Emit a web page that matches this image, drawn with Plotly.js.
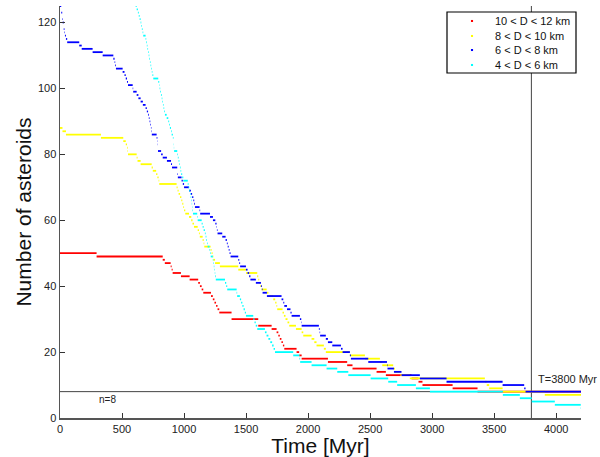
<!DOCTYPE html>
<html>
<head>
<meta charset="utf-8">
<script src="https://cdn.plot.ly/plotly-3.0.1.min.js"></script>
<style>html,body{margin:0;padding:0;background:#fff;}#chart{width:600px;height:457px;}</style>
</head>
<body>
<div id="chart"></div>
<script>
// Step series: level N[i] holds from T[i] to T[i+1] (last T = end time)
const seriesNames = ["10 &lt; D &lt; 12 km", "8 &lt; D &lt; 10 km", "6 &lt; D &lt; 8 km", "4 &lt; D &lt; 6 km"];
const seriesColors = ["#ff0000", "#ffff00", "#0000ff", "#00ffff"];

const redT = [0,295,828,845,892,900,908,975,1045,1114,1128,1142,1155,1217,1232,1245,1258,1270,1284,1383,1598,1706,1746,1760,1772,1785,1797,1808,1907,1928,1948,2160,2315,2358,2552,2627,2834,2890,2922,3165,3366,4200];
const redN = [50,49,48,47,46,45,44,43,42,41,40,39,38,37,36,35,34,33,32,30,28,27,26,25,24,23,22,21,20,19,18,17,16,15,14,13,12,11,10,9,8];

const yellowT = [0,20,48,330,510,530,540,545,548,618,625,650,739,748,775,785,795,800,940,948,956,968,978,986,994,1000,1010,1040,1058,1068,1080,1110,1120,1127,1150,1158,1163,1214,1222,1230,1236,1250,1289,1437,1500,1590,1598,1606,1614,1625,1666,1680,1719,1735,1745,1751,1794,1805,1818,1834,1848,1902,1948,1961,2028,2050,2068,2127,2143,2337,2458,2579,2598,2686,2700,2745,2820,3425,3440,3460,3568,3908,4200];
const yellowN = [88,87,86,85,84,83,82,81,80,79,78,77,76,75,74,73,72,71,70,69,68,67,66,65,64,63,62,61,60,59,58,57,56,55,54,53,52,51,50,49,48,47,46,45,44,43,42,41,40,39,38,37,36,35,34,33,32,31,30,29,28,27,26,25,24,23,22,21,20,19,18,17,16,15,14,13,12,11,10,9,8,7];

const blueT = [0,10,18,22,30,36,40,48,58,155,175,263,344,430,440,445,451,505,520,530,540,548,586,590,618,632,650,668,690,700,710,716,722,728,733,737,740,779,785,787,789,790,815,828,862,895,903,945,946,950,980,990,1000,1040,1055,1065,1075,1082,1088,1125,1130,1209,1233,1252,1262,1265,1270,1308,1335,1345,1352,1360,1367,1375,1437,1445,1452,1499,1512,1525,1535,1579,1620,1627,1633,1668,1786,1800,1808,1830,1858,1867,1934,1945,1948,2087,2093,2097,2143,2160,2195,2265,2278,2337,2345,2485,2636,2640,2692,2753,2901,3116,3568,3742,3753,4200];
const blueN = [125,123,121,120,118,117,116,115,114,113,112,111,110,109,108,107,106,105,104,103,102,101,100,99,98,97,96,95,94,93,92,91,90,89,88,87,86,85,84,83,82,81,80,79,78,77,76,75,74,73,72,71,70,69,68,67,66,65,64,63,62,61,60,59,58,57,56,55,54,53,52,51,50,49,48,47,46,45,44,43,42,41,40,39,38,37,36,35,34,33,32,31,30,29,28,27,26,25,24,23,22,21,20,19,18,17,16,15,14,13,12,11,10,9,8,7];

const cyanT = [590,610,618,628,635,642,650,655,660,666,671,690,695,700,705,710,715,720,725,730,735,740,745,752,792,800,803,808,814,820,825,830,835,840,846,860,873,880,886,895,900,910,915,916,918,920,945,950,956,962,967,972,977,985,994,1030,1036,1042,1048,1053,1058,1062,1065,1068,1072,1106,1110,1142,1150,1158,1168,1174,1180,1185,1190,1205,1210,1215,1232,1236,1240,1244,1248,1251,1256,1330,1340,1348,1424,1428,1450,1460,1470,1480,1490,1499,1558,1568,1578,1590,1652,1665,1680,1695,1710,1722,1733,1880,1930,1936,2028,2149,2235,2324,2504,2646,2718,2869,2982,3570,3707,3803,3989,4198,4200];
const cyanN = [126,125,124,123,122,121,120,119,118,117,116,115,114,113,112,111,110,109,108,107,106,105,104,103,102,101,100,99,98,97,96,95,94,93,92,91,90,89,88,87,86,85,84,83,82,81,80,79,78,77,76,75,74,73,72,71,70,69,68,67,66,65,64,63,62,61,60,59,58,57,56,55,54,53,52,51,50,49,48,47,46,45,44,43,42,41,40,39,38,37,36,35,34,33,32,31,30,29,28,27,26,25,24,23,22,21,20,19,18,17,16,15,14,13,12,11,10,9,8,7,6,5,4,3];

const xTicks = [0,500,1000,1500,2000,2500,3000,3500,4000];
const yTicks = [0,20,40,60,80,100,120];
const thresholdT = 3800;
const thresholdN = 8;

function segments(T, N) {
  const x = [], y = [];
  for (let i = 0; i < N.length; i++) {
    x.push(T[i], T[i + 1], null);
    y.push(N[i], N[i], null);
  }
  return {x, y};
}

const allT = [redT, yellowT, blueT, cyanT];
const allN = [redN, yellowN, blueN, cyanN];
const traces = [];
for (let k = 0; k < 4; k++) {
  const s = segments(allT[k], allN[k]);
  traces.push({
    x: s.x, y: s.y, type: 'scatter', mode: 'lines',
    line: {color: seriesColors[k], width: 1.8},
    showlegend: false, hoverinfo: 'skip'
  });
}

// Compact legend box (paper coordinates), MATLAB-style
const legBox = {x0: 0.7428, x1: 0.9904, y0: 0.8374, y1: 0.9854};
const legRowY = [0.9636, 0.9272, 0.8932, 0.8568];
const legDotX = 0.7908, legTextX = 0.8311;

const shapes = [
  {type: 'line', xref: 'x', yref: 'paper', x0: thresholdT, x1: thresholdT, y0: 0, y1: 1,
   line: {color: '#444', width: 1}, layer: 'below'},
  {type: 'line', xref: 'paper', yref: 'y', x0: 0, x1: 1, y0: thresholdN, y1: thresholdN,
   line: {color: '#444', width: 1}, layer: 'below'},
  {type: 'rect', xref: 'paper', yref: 'paper', x0: legBox.x0, x1: legBox.x1, y0: legBox.y0, y1: legBox.y1,
   fillcolor: '#fff', line: {color: '#000', width: 1.2}, layer: 'above'}
];
const annotations = [
  {x: 300, y: thresholdN, xref: 'x', yref: 'y', text: 'n=' + thresholdN, showarrow: false,
   xanchor: 'left', yanchor: 'top', font: {size: 10, color: '#222'}},
  {x: 3840, y: 9.3, xref: 'x', yref: 'y', text: 'T=' + thresholdT + ' Myr', showarrow: false,
   xanchor: 'left', yanchor: 'bottom', font: {size: 11, color: '#222'}}
];
for (let k = 0; k < 4; k++) {
  shapes.push({type: 'rect', xref: 'paper', yref: 'paper',
    x0: legDotX - 0.002, x1: legDotX + 0.002, y0: legRowY[k] - 0.0025, y1: legRowY[k] + 0.0025,
    fillcolor: seriesColors[k], line: {width: 0}, layer: 'above'});
  annotations.push({x: legTextX, y: legRowY[k], xref: 'paper', yref: 'paper', text: seriesNames[k],
    showarrow: false, xanchor: 'left', yanchor: 'middle', font: {size: 11, color: '#111'}});
}

const font = 'Arial, "Liberation Sans", Helvetica, sans-serif';
const layout = {
  width: 600, height: 457,
  margin: {l: 60, r: 19, t: 6, b: 39},
  paper_bgcolor: '#fff', plot_bgcolor: '#fff',
  font: {family: font, color: '#222', size: 11},
  showlegend: false,
  xaxis: {
    range: [0, 4200], tickvals: xTicks, ticktext: xTicks.map(String),
    ticks: 'inside', ticklen: 5, tickcolor: '#333', showgrid: false, zeroline: false,
    showline: true, linecolor: '#555', linewidth: 1.5,
    tickfont: {size: 11, color: '#222'},
    title: {text: 'Time [Myr]', font: {size: 21, color: '#111'}, standoff: 0}
  },
  yaxis: {
    range: [0, 125], tickvals: yTicks, ticktext: yTicks.map(String),
    ticks: 'inside', ticklen: 5, tickcolor: '#333', showgrid: false, zeroline: false,
    showline: true, linecolor: '#555', linewidth: 1.5,
    tickfont: {size: 11, color: '#222'},
    title: {text: 'Number of asteroids', font: {size: 21, color: '#111'}, standoff: 0}
  },
  shapes: shapes,
  annotations: annotations
};

Plotly.newPlot('chart', traces, layout, {displayModeBar: false, staticPlot: true});
</script>
</body>
</html>
